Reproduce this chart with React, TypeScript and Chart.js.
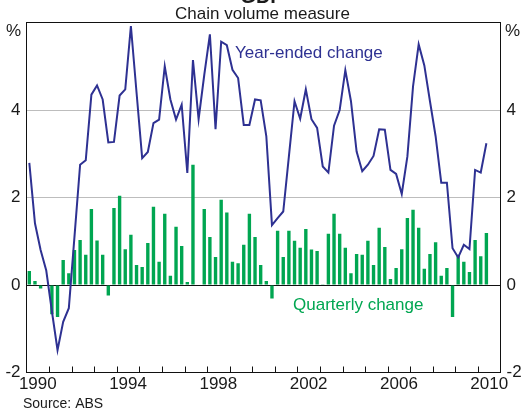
import React, { useEffect, useRef } from 'react';
import { Chart, registerables } from 'chart.js';

Chart.register(...registerables);

const START_YEAR = 1990;
const END_YEAR = 2011;

// Quarterly change, %, Mar 1990 .. Jun 2010
const quarterlyChange = [
  0.32, 0.09, -0.08, 0.0, -0.67, -0.73, 0.57, 0.27, 0.8, 1.03, 0.69, 1.74,
  1.02, 0.69, -0.24, 1.76, 2.04, 0.82, 1.15, 0.46, 0.41, 0.96, 1.79, 0.53,
  1.63, 0.21, 1.33, 0.89, 0.07, 2.75, 0.0, 1.74, 1.1, 0.64, 1.95, 1.66,
  0.53, 0.5, 0.92, 1.63, 1.1, 0.46, 0.09, -0.31, 1.24, 0.64, 1.24, 1.01,
  0.85, 1.28, 0.81, 0.78, 0.02, 1.17, 1.63, 1.17, 0.85, 0.27, 0.71, 0.69,
  1.01, 0.46, 1.31, 0.87, 0.14, 0.39, 0.82, 1.53, 1.72, 1.31, 0.37, 0.71,
  0.98, 0.21, 0.39, -0.73, 0.69, 0.53, 0.3, 1.03, 0.66, 1.19,
];

// Year-ended change, %, Mar 1990 .. Jun 2010
const yearEndedChange = [
  2.79, 1.41, 0.8, 0.33, -0.6, -1.49, -0.84, -0.53, 1.1, 2.75, 2.85, 4.35,
  4.56, 4.24, 3.26, 3.27, 4.33, 4.47, 5.92, 4.4, 2.9, 3.04, 3.7, 3.78,
  5.0, 4.24, 3.78, 4.12, 2.56, 5.14, 3.79, 4.8, 5.73, 3.56, 5.56, 5.48,
  4.92, 4.73, 3.66, 3.66, 4.24, 4.22, 3.4, 1.37, 1.53, 1.68, 2.94, 4.2,
  3.8, 4.47, 3.79, 3.59, 2.71, 2.57, 3.64, 4.0, 4.91, 4.2, 3.05, 2.6,
  2.75, 2.95, 3.56, 3.55, 2.63, 2.54, 2.08, 2.94, 4.54, 5.5, 5.02, 4.2,
  3.4, 2.34, 2.34, 0.84, 0.63, 0.92, 0.82, 2.63, 2.57, 3.24,
];

const yTickValues = [-2, 0, 2, 4, 6];
const xLabelYears = [1990, 1994, 1998, 2002, 2006, 2010];

const FONT = '"Liberation Sans", Arial, Helvetica, sans-serif';
const NAVY = '#2e3192';
const GREEN = '#00a651';
const TEXT = '#1a1a1a';

const quarterX = (i: number) => START_YEAR + (i + 0.5) / 4;

const decorPlugin = {
  id: 'decor',
  afterDraw(chart: any) {
    const ctx = chart.ctx as CanvasRenderingContext2D;
    const a = chart.chartArea;
    const xs = chart.scales.x;
    ctx.save();
    // frame
    ctx.strokeStyle = '#111';
    ctx.lineWidth = 1;
    ctx.strokeRect(a.left, a.top, a.right - a.left, a.bottom - a.top);
    // inside tick marks at year boundaries
    ctx.beginPath();
    for (let y = START_YEAR + 1; y < END_YEAR; y++) {
      const px = Math.round(xs.getPixelForValue(y)) + 0.5;
      ctx.moveTo(px, a.bottom);
      ctx.lineTo(px, a.bottom - 6);
    }
    ctx.stroke();

    // texts
    ctx.fillStyle = TEXT;
    ctx.textBaseline = 'alphabetic';
    ctx.font = `bold 20px ${FONT}`;
    ctx.textAlign = 'center';
    ctx.fillText('GDP', 262, 3);
    ctx.font = `17px ${FONT}`;
    ctx.fillText('Chain volume measure', 262.5, 19);

    ctx.font = `17px ${FONT}`;
    ctx.textAlign = 'right';
    ctx.fillText('%', 21, 36);
    ctx.textAlign = 'left';
    ctx.fillText('%', 505, 36);

    ctx.fillStyle = NAVY;
    ctx.fillText('Year-ended change', 235, 58);
    ctx.fillStyle = GREEN;
    ctx.fillText('Quarterly change', 293, 310);

    ctx.fillStyle = TEXT;
    ctx.font = `14px ${FONT}`;
    ctx.fillText('Source: ABS', 23, 408);
    ctx.restore();
  },
};

export default function App() {
  const canvasRef = useRef<HTMLCanvasElement | null>(null);

  useEffect(() => {
    const canvas = canvasRef.current;
    if (!canvas) return;
    const tickFont = { family: FONT, size: 17 };
    const chart = new Chart(canvas, {
      type: 'bar',
      data: {
        datasets: [
          {
            type: 'line',
            label: 'Year-ended change',
            data: yearEndedChange.map((v, i) => ({ x: quarterX(i), y: v })),
            borderColor: NAVY,
            borderWidth: 2,
            pointRadius: 0,
            tension: 0,
            order: 0,
          } as any,
          {
            type: 'bar',
            label: 'Quarterly change',
            data: quarterlyChange.map((v, i) => ({ x: quarterX(i), y: v })),
            backgroundColor: GREEN,
            barPercentage: 1,
            categoryPercentage: 0.6,
            order: 1,
          } as any,
        ],
      },
      options: {
        responsive: false,
        animation: false,
        devicePixelRatio: 1,
        layout: { padding: { top: 22.5, left: 0, right: 0, bottom: 0 } },
        plugins: {
          legend: { display: false },
          tooltip: { enabled: false },
        },
        scales: {
          x: {
            type: 'linear',
            min: START_YEAR,
            max: END_YEAR,
            offset: false,
            afterBuildTicks: (s: any) => {
              s.ticks = xLabelYears.map((y) => ({ value: y + 0.5 }));
            },
            afterFit: (s: any) => {
              s.height = 39.5;
            },
            ticks: {
              callback: (v: any) => String(Math.floor(Number(v))),
              font: tickFont,
              color: TEXT,
              padding: 2,
              maxRotation: 0,
              autoSkip: false,
            },
            grid: { display: false, drawTicks: false },
            border: { display: false },
          },
          y: {
            position: 'left',
            min: -2,
            max: 6,
            afterBuildTicks: (s: any) => {
              s.ticks = yTickValues.map((v) => ({ value: v }));
            },
            afterFit: (s: any) => {
              s.width = 26.5;
            },
            ticks: {
              callback: (v: any) => (Number(v) === 6 ? '' : String(v)),
              font: tickFont,
              color: TEXT,
              padding: 6,
            },
            grid: {
              drawTicks: false,
              lineWidth: 1,
              color: (c: any) => {
                const v = c.tick && c.tick.value;
                if (v === 0) return '#111';
                if (v === 2 || v === 4) return '#bdbdbd';
                return 'rgba(0,0,0,0)';
              },
            },
            border: { display: false },
          },
          y2: {
            position: 'right',
            min: -2,
            max: 6,
            afterBuildTicks: (s: any) => {
              s.ticks = yTickValues.map((v) => ({ value: v }));
            },
            afterFit: (s: any) => {
              s.width = 20.5;
            },
            ticks: {
              callback: (v: any) => (Number(v) === 6 ? '' : String(v)),
              font: tickFont,
              color: TEXT,
              padding: 6,
            },
            grid: { display: false, drawTicks: false },
            border: { display: false },
          },
        },
      } as any,
      plugins: [decorPlugin],
    });
    return () => chart.destroy();
  }, []);

  return (
    <div style={{ position: 'fixed', left: 0, top: 0, width: 521, height: 412, background: '#fff' }}>
      <canvas ref={canvasRef} width={521} height={412} style={{ display: 'block' }} />
    </div>
  );
}
